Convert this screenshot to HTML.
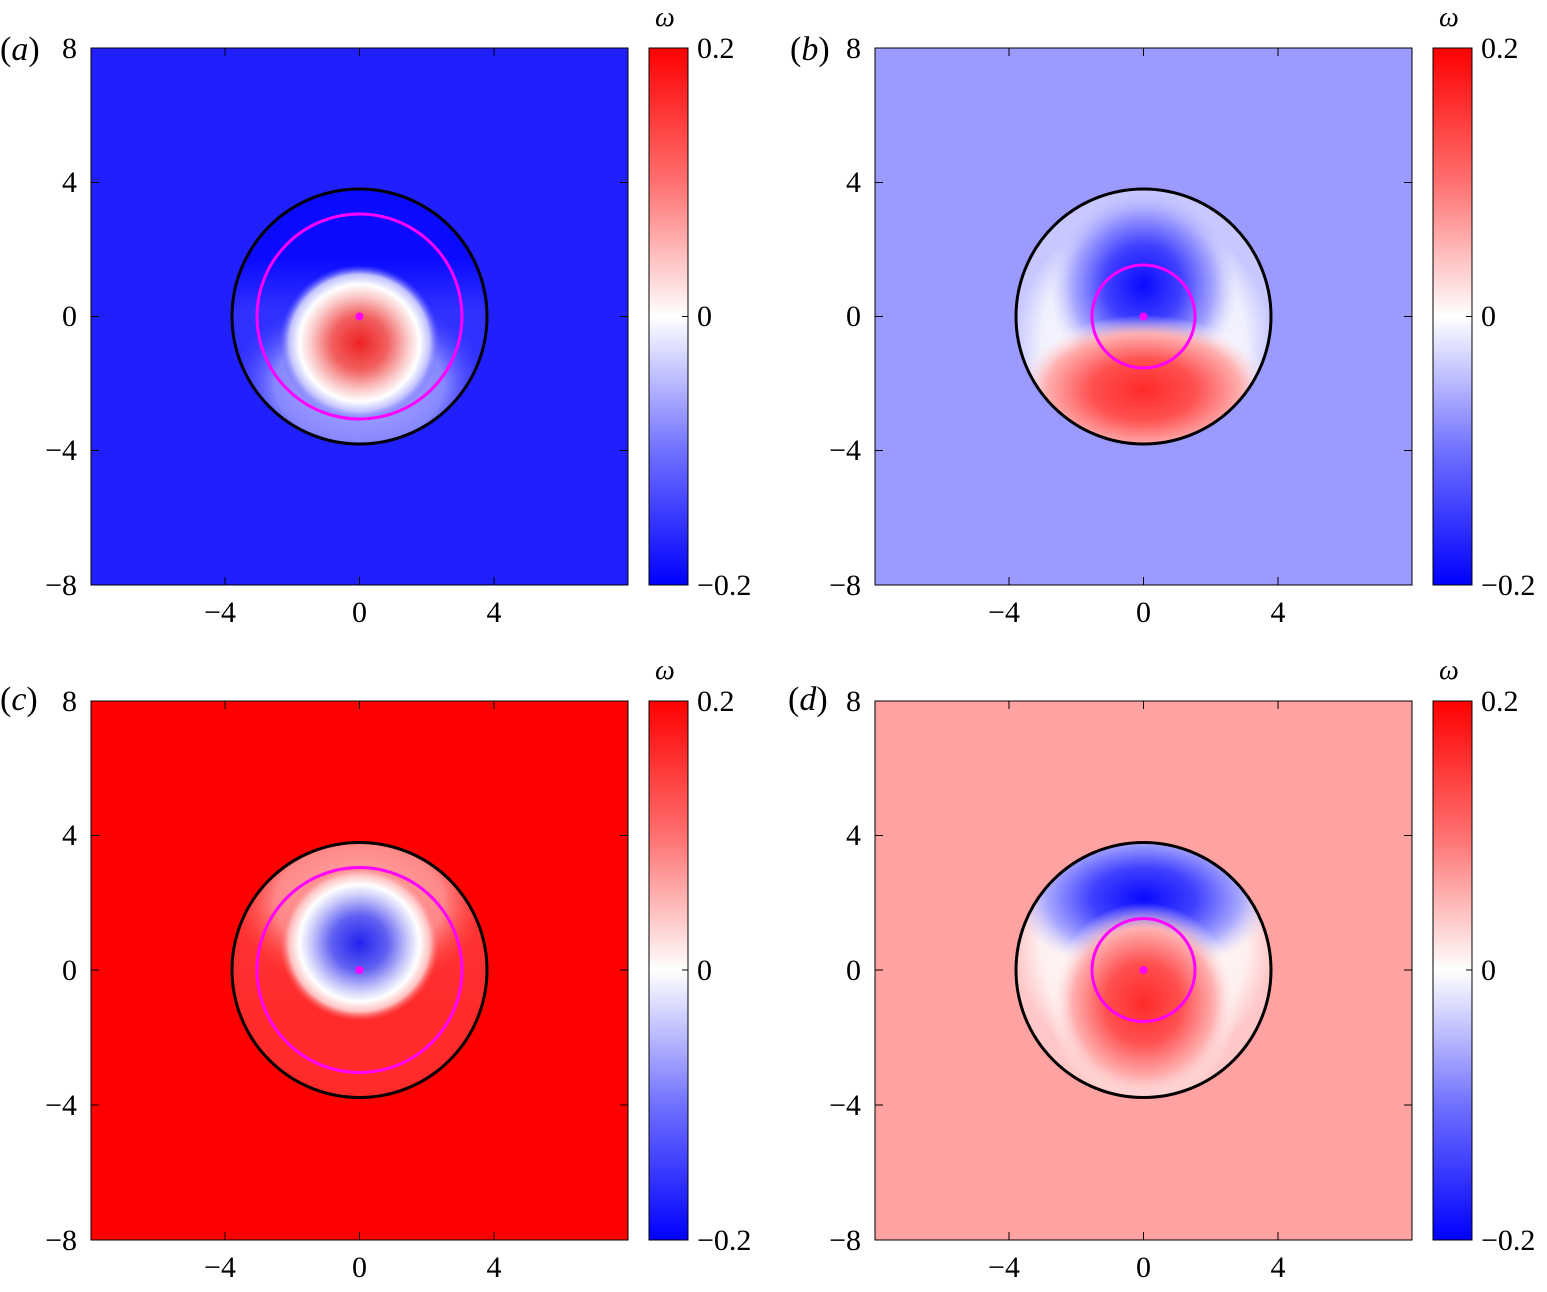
<!DOCTYPE html>
<html><head><meta charset="utf-8"><style>
html,body{margin:0;padding:0;background:#fff}
svg text{font-family:"Liberation Serif",serif;font-size:30px;fill:#000}
</style></head><body>
<svg width="1547" height="1287" viewBox="0 0 1547 1287" xmlns="http://www.w3.org/2000/svg">
<defs>
<linearGradient id="cb" x1="0" y1="0" x2="0" y2="1">
<stop offset="0" stop-color="#ff0000"/><stop offset="0.25" stop-color="#ff7070"/>
<stop offset="0.5" stop-color="#ffffff"/><stop offset="0.75" stop-color="#7070ff"/>
<stop offset="1" stop-color="#0000ff"/></linearGradient>
<linearGradient id="aTop" x1="0" y1="0" x2="0" y2="1"><stop offset="0" stop-color="#0a0aff"/><stop offset="0.6" stop-color="#0a0aff"/><stop offset="1" stop-color="#0a0aff" stop-opacity="0"/></linearGradient>
<linearGradient id="cTop" x1="0" y1="1" x2="0" y2="0"><stop offset="0" stop-color="#ff2a2a"/><stop offset="0.6" stop-color="#ff2a2a"/><stop offset="1" stop-color="#ff2a2a" stop-opacity="0"/></linearGradient>
<radialGradient id="aRed"><stop offset="0" stop-color="#ee2222"/><stop offset="0.35" stop-color="#f26060"/><stop offset="0.6" stop-color="#fbc8c8"/><stop offset="0.75" stop-color="#ffffff"/><stop offset="0.88" stop-color="#c0c0ff"/><stop offset="1" stop-color="#6060ff" stop-opacity="0"/></radialGradient>
<radialGradient id="aLight"><stop offset="0" stop-color="#b0b0ff"/><stop offset="0.6" stop-color="#8888ff"/><stop offset="1" stop-color="#2020ff" stop-opacity="0"/></radialGradient>
<radialGradient id="cBlue"><stop offset="0" stop-color="#2222ee"/><stop offset="0.35" stop-color="#6060f2"/><stop offset="0.6" stop-color="#c8c8fb"/><stop offset="0.75" stop-color="#ffffff"/><stop offset="0.88" stop-color="#ffc0c0"/><stop offset="1" stop-color="#ff6060" stop-opacity="0"/></radialGradient>
<radialGradient id="cLight"><stop offset="0" stop-color="#ffb0b0"/><stop offset="0.6" stop-color="#ff8888"/><stop offset="1" stop-color="#ff2020" stop-opacity="0"/></radialGradient>
<radialGradient id="bBase" cx="0.5" cy="0.6" r="0.5"><stop offset="0" stop-color="#ffffff"/><stop offset="0.8" stop-color="#f0f0ff"/><stop offset="1" stop-color="#c8c8ff"/></radialGradient>
<radialGradient id="dBase" cx="0.5" cy="0.4" r="0.5"><stop offset="0" stop-color="#ffffff"/><stop offset="0.8" stop-color="#fff0f0"/><stop offset="1" stop-color="#ffc8c8"/></radialGradient>
<radialGradient id="bBlue"><stop offset="0" stop-color="#0a0aff"/><stop offset="0.4" stop-color="#4040ff"/><stop offset="0.75" stop-color="#a8a8ff"/><stop offset="1" stop-color="#d0d0ff" stop-opacity="0"/></radialGradient>
<radialGradient id="bRed"><stop offset="0" stop-color="#ff2a2a"/><stop offset="0.4" stop-color="#ff5050"/><stop offset="0.75" stop-color="#ffb0b0"/><stop offset="1" stop-color="#ffffff" stop-opacity="0"/></radialGradient>
<clipPath id="ca"><circle cx="359.5" cy="316.5" r="127.5"/></clipPath>
<clipPath id="cb2"><circle cx="1143.5" cy="316.5" r="127.5"/></clipPath>
<clipPath id="cc"><circle cx="359.5" cy="970" r="127.5"/></clipPath>
<clipPath id="cd"><circle cx="1143.5" cy="970" r="127.5"/></clipPath>
</defs>

<!-- Panel a -->
<rect x="91" y="48" width="537" height="537" fill="#2020ff"/>
<g clip-path="url(#ca)">
<rect x="220" y="180" width="280" height="280" fill="#3030ff"/>
<ellipse cx="359.5" cy="385" rx="140" ry="95" fill="url(#aLight)"/>
<rect x="220" y="180" width="280" height="130" fill="url(#aTop)"/>
<ellipse cx="359.5" cy="343" rx="80" ry="78" fill="url(#aRed)"/>
</g>
<circle cx="359.5" cy="316.5" r="127.5" fill="none" stroke="#000" stroke-width="3"/>
<circle cx="359.5" cy="316.5" r="102.5" fill="none" stroke="#ff00ff" stroke-width="3"/>
<circle cx="359.5" cy="316.5" r="4" fill="#ff00ff"/>

<!-- Panel b -->
<rect x="875" y="48" width="537" height="537" fill="#9a9aff"/>
<g clip-path="url(#cb2)">
<circle cx="1143.5" cy="316.5" r="128" fill="url(#bBase)"/>
<ellipse cx="1143.5" cy="285" rx="95" ry="100" fill="url(#bBlue)"/>
<ellipse cx="1143.5" cy="390" rx="130" ry="75" fill="url(#bRed)"/>
</g>
<circle cx="1143.5" cy="316.5" r="127.5" fill="none" stroke="#000" stroke-width="3"/>
<circle cx="1143.5" cy="316.5" r="51.5" fill="none" stroke="#ff00ff" stroke-width="3"/>
<circle cx="1143.5" cy="316.5" r="4" fill="#ff00ff"/>

<!-- Panel c -->
<rect x="91" y="701" width="537" height="539" fill="#ff0000"/>
<g clip-path="url(#cc)">
<rect x="220" y="835" width="280" height="280" fill="#ff3030"/>
<ellipse cx="359.5" cy="901" rx="140" ry="95" fill="url(#cLight)"/>
<rect x="220" y="960" width="280" height="150" fill="url(#cTop)"/>
<ellipse cx="359.5" cy="943" rx="80" ry="78" fill="url(#cBlue)"/>
</g>
<circle cx="359.5" cy="970" r="127.5" fill="none" stroke="#000" stroke-width="3"/>
<circle cx="359.5" cy="970" r="102.5" fill="none" stroke="#ff00ff" stroke-width="3"/>
<circle cx="359.5" cy="970" r="4" fill="#ff00ff"/>

<!-- Panel d -->
<rect x="875" y="701" width="537" height="539" fill="#ffa2a2"/>
<g clip-path="url(#cd)">
<circle cx="1143.5" cy="970" r="128" fill="url(#dBase)"/>
<ellipse cx="1143.5" cy="898" rx="130" ry="75" fill="url(#bBlue)"/>
<ellipse cx="1143.5" cy="1003" rx="95" ry="100" fill="url(#bRed)"/>
</g>
<circle cx="1143.5" cy="970" r="127.5" fill="none" stroke="#000" stroke-width="3"/>
<circle cx="1143.5" cy="970" r="51.5" fill="none" stroke="#ff00ff" stroke-width="3"/>
<circle cx="1143.5" cy="970" r="4" fill="#ff00ff"/>

<!-- frames, ticks -->
<g fill="none" stroke="#000" stroke-width="1">
<rect x="91" y="48" width="537" height="537"/>
<rect x="875" y="48" width="537" height="537"/>
<rect x="91" y="701" width="537" height="539"/>
<rect x="875" y="701" width="537" height="539"/>
<path d="M225,585v-8M359.5,585v-8M494,585v-8M225,48v8M359.5,48v8M494,48v8M91,182.5h8M91,316.5h8M91,450.5h8M628,182.5h-8M628,316.5h-8M628,450.5h-8"/>
<path d="M1009,585v-8M1143.5,585v-8M1278,585v-8M1009,48v8M1143.5,48v8M1278,48v8M875,182.5h8M875,316.5h8M875,450.5h8M1412,182.5h-8M1412,316.5h-8M1412,450.5h-8"/>
<path d="M225,1240v-8M359.5,1240v-8M494,1240v-8M225,701v8M359.5,701v8M494,701v8M91,835.5h8M91,970h8M91,1105h8M628,835.5h-8M628,970h-8M628,1105h-8"/>
<path d="M1009,1240v-8M1143.5,1240v-8M1278,1240v-8M1009,701v8M1143.5,701v8M1278,701v8M875,835.5h8M875,970h8M875,1105h8M1412,835.5h-8M1412,970h-8M1412,1105h-8"/>
</g>

<!-- colorbars -->
<g stroke="#000" stroke-width="1">
<rect x="649" y="48" width="39" height="537" fill="url(#cb)"/>
<rect x="1433" y="48" width="39" height="537" fill="url(#cb)"/>
<rect x="649" y="701" width="39" height="539" fill="url(#cb)"/>
<rect x="1433" y="701" width="39" height="539" fill="url(#cb)"/>
<path d="M688,316.5h-6M1472,316.5h-6M688,970h-6M1472,970h-6"/>
</g>

<g style="font-size:34px">
<text x="0" y="60" style="font-size:34px">(<tspan font-style="italic">a</tspan>)</text>
<text x="790" y="60" style="font-size:34px">(<tspan font-style="italic">b</tspan>)</text>
<text x="0" y="710" style="font-size:34px">(<tspan font-style="italic">c</tspan>)</text>
<text x="788" y="710" style="font-size:34px">(<tspan font-style="italic">d</tspan>)</text>
</g>

<g text-anchor="end">
<text x="77" y="58">8</text><text x="77" y="192">4</text><text x="77" y="326">0</text><text x="77" y="460">−4</text><text x="77" y="595">−8</text>
<text x="861" y="58">8</text><text x="861" y="192">4</text><text x="861" y="326">0</text><text x="861" y="460">−4</text><text x="861" y="595">−8</text>
<text x="77" y="711">8</text><text x="77" y="845">4</text><text x="77" y="980">0</text><text x="77" y="1115">−4</text><text x="77" y="1250">−8</text>
<text x="861" y="711">8</text><text x="861" y="845">4</text><text x="861" y="980">0</text><text x="861" y="1115">−4</text><text x="861" y="1250">−8</text>
</g>
<g text-anchor="middle">
<text x="220" y="622">−4</text><text x="359.5" y="622">0</text><text x="494" y="622">4</text>
<text x="1004" y="622">−4</text><text x="1143.5" y="622">0</text><text x="1278" y="622">4</text>
<text x="220" y="1277">−4</text><text x="359.5" y="1277">0</text><text x="494" y="1277">4</text>
<text x="1004" y="1277">−4</text><text x="1143.5" y="1277">0</text><text x="1278" y="1277">4</text>
</g>
<g>
<text x="697" y="58">0.2</text><text x="697" y="326">0</text><text x="697" y="595">−0.2</text>
<text x="1481" y="58">0.2</text><text x="1481" y="326">0</text><text x="1481" y="595">−0.2</text>
<text x="697" y="711">0.2</text><text x="697" y="980">0</text><text x="697" y="1250">−0.2</text>
<text x="1481" y="711">0.2</text><text x="1481" y="980">0</text><text x="1481" y="1250">−0.2</text>
</g>
<g>
<text x="655" y="26" style="font-style:italic;font-size:28px">ω</text><text x="1439" y="26" style="font-style:italic;font-size:28px">ω</text>
<text x="655" y="679" style="font-style:italic;font-size:28px">ω</text><text x="1439" y="679" style="font-style:italic;font-size:28px">ω</text>
</g>
</svg>
</body></html>
